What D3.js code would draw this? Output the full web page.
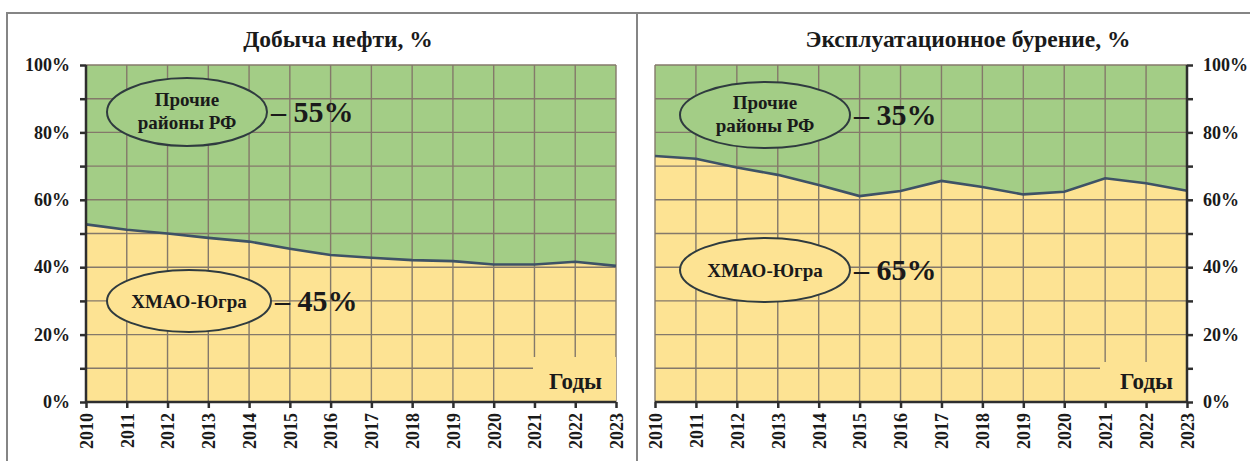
<!DOCTYPE html>
<meta charset="utf-8">
<head>
  <title>Добыча нефти и бурение</title>
</head>

<style>
body { margin: 0; background: #fff; }
svg { display: block; }
text { font-family: "Liberation Serif", "Times New Roman", serif; font-weight: bold; fill: #1a1a1a; }
.grid line { stroke: #84796a; stroke-width: 1.4; }
.axis path, .axis line { stroke: #2e2e2e; stroke-width: 2.5; }
</style>

<body>
  <svg width="1250" height="461"></svg>

  <script src="https://cdnjs.cloudflare.com/ajax/libs/d3/7.8.5/d3.min.js"></script>
  <script>

// years on the x axis
const years = [2010, 2011, 2012, 2013, 2014, 2015, 2016, 2017, 2018, 2019, 2020, 2021, 2022, 2023];

// share of KhMAO-Yugra, % (rest up to 100% = other regions)
const oilKhmao   = [52.7, 51.1, 50.0, 48.7, 47.6, 45.5, 43.6, 42.8, 42.1, 41.8, 40.8, 40.8, 41.6, 40.4];
const drillKhmao = [73.0, 72.2, 69.6, 67.4, 64.4, 61.1, 62.6, 65.6, 63.8, 61.6, 62.4, 66.4, 64.9, 62.7];

const yTicks = [0, 20, 40, 60, 80, 100];
const titles = ["Добыча нефти, %", "Эксплуатационное бурение, %"];
const otherLabel = ["Прочие", "районы РФ"];
const khmaoLabel = "ХМАО-Югра";
const otherShare = ["– 55%", "– 35%"];
const khmaoShare = ["– 45%", "– 65%"];

const green = "#a3cd86", yellow = "#fde393";

const svg = d3.select("svg");

// frame
svg.append("path")
  .attr("d", "M7,461 V13 H1250 M637,13 V461")
  .attr("fill", "none")
  .attr("stroke", "#858585")
  .attr("stroke-width", 2);

function panel(o) {
  const x = d3.scaleLinear().domain([2010, 2023]).range([o.left, o.right]);
  const y = d3.scaleLinear().domain([0, 100]).range([o.bottom, o.top]);
  const g = svg.append("g");

  g.append("rect")
    .attr("x", o.left).attr("y", o.top)
    .attr("width", o.right - o.left).attr("height", o.bottom - o.top)
    .attr("fill", green);

  const area = d3.area()
    .x((d, i) => x(years[i]))
    .y0(y(0))
    .y1(d => y(d));

  g.append("path").datum(o.values)
    .attr("d", area)
    .attr("fill", yellow);

  // grid
  const grid = g.append("g").attr("class", "grid");
  grid.selectAll(".h").data(d3.range(10, 101, 10)).enter().append("line")
    .attr("x1", o.left).attr("x2", o.right)
    .attr("y1", d => y(d)).attr("y2", d => y(d));
  grid.selectAll(".v").data(years.slice(1, -1)).enter().append("line")
    .attr("x1", d => x(d)).attr("x2", d => x(d))
    .attr("y1", o.top).attr("y2", o.bottom);
  grid.append("line")
    .attr("x1", o.axisRight ? o.left : o.right).attr("x2", o.axisRight ? o.left : o.right)
    .attr("y1", o.top).attr("y2", o.bottom);

  // boundary line
  g.append("path").datum(o.values)
    .attr("d", d3.line().x((d, i) => x(years[i])).y(d => y(d)))
    .attr("fill", "none")
    .attr("stroke", "#3e5266")
    .attr("stroke-width", 2.6);

  // box behind "Годы"
  g.append("rect")
    .attr("x", o.boxX).attr("y", o.boxY)
    .attr("width", o.right - o.boxX).attr("height", o.bottom - o.boxY - 1)
    .attr("fill", yellow);
  g.append("text")
    .attr("x", o.right - 14).attr("y", o.bottom - 13)
    .attr("text-anchor", "end")
    .style("font-size", "23px")
    .text("Годы");

  // y axis
  const yAxis = (o.axisRight ? d3.axisRight(y) : d3.axisLeft(y))
    .tickValues(d3.range(0, 101, 10))
    .tickSize(6)
    .tickPadding(10)
    .tickFormat(d => yTicks.includes(d) ? d + "%" : "");
  g.append("g").attr("class", "axis")
    .attr("transform", `translate(${o.axisRight ? o.right : o.left},0)`)
    .call(yAxis)
    .call(s => s.selectAll("text").style("font-size", "18px").attr("fill", "#1a1a1a"))
    .call(s => s.selectAll(".domain").attr("d", `M0,${o.top}V${o.bottom}`));

  // x axis
  g.append("g").attr("class", "axis")
    .attr("transform", `translate(0,${o.bottom})`)
    .call(d3.axisBottom(x).tickValues(years).tickFormat(d3.format("d")).tickSize(6))
    .call(s => s.selectAll(".domain").attr("d", `M${o.left},0H${o.right}`))
    .call(s => s.selectAll("text")
      .attr("transform", "rotate(-90)")
      .attr("text-anchor", "end")
      .attr("x", -11).attr("y", 0).attr("dy", "0.35em")
      .style("font-size", "18px").attr("fill", "#1a1a1a"));

  // title
  g.append("text")
    .attr("x", o.titleX).attr("y", 47)
    .attr("text-anchor", "middle")
    .style("font-size", "23.5px")
    .text(o.title);

  // legend ellipses
  g.append("ellipse")
    .attr("cx", o.e1[0]).attr("cy", o.e1[1]).attr("rx", o.e1[2]).attr("ry", o.e1[3])
    .attr("fill", green).attr("stroke", "#2f3b3f").attr("stroke-width", 2);
  g.append("text")
    .attr("x", o.e1[0]).attr("y", o.e1[1] - 6)
    .attr("text-anchor", "middle")
    .style("font-size", "19px")
    .selectAll("tspan").data(otherLabel).enter().append("tspan")
    .attr("x", o.e1[0]).attr("dy", (d, i) => i ? 23 : 0)
    .text(d => d);
  g.append("text")
    .attr("x", o.e1[0] + o.e1[2] + 4).attr("y", o.e1[1] + 10)
    .style("font-size", "30px")
    .text(o.share1);

  g.append("ellipse")
    .attr("cx", o.e2[0]).attr("cy", o.e2[1]).attr("rx", o.e2[2]).attr("ry", o.e2[3])
    .attr("fill", yellow).attr("stroke", "#2f3b3f").attr("stroke-width", 2);
  g.append("text")
    .attr("x", o.e2[0]).attr("y", o.e2[1] + 7)
    .attr("text-anchor", "middle")
    .style("font-size", "19px")
    .text(khmaoLabel);
  g.append("text")
    .attr("x", o.e2[0] + o.e2[2] + 4).attr("y", o.e2[1] + 10)
    .style("font-size", "30px")
    .text(o.share2);
}

panel({
  left: 86, right: 616, top: 65, bottom: 402,
  values: oilKhmao, axisRight: false,
  title: titles[0], titleX: 338,
  boxX: 533, boxY: 357,
  e1: [187, 112, 80, 34], share1: otherShare[0],
  e2: [189, 301, 82, 31], share2: khmaoShare[0]
});

panel({
  left: 655, right: 1187, top: 65, bottom: 402,
  values: drillKhmao, axisRight: true,
  title: titles[1], titleX: 968,
  boxX: 1100, boxY: 362,
  e1: [765, 115, 85, 33], share1: otherShare[1],
  e2: [765, 270, 85, 32], share2: khmaoShare[1]
});

  </script>
</body>
</html>
